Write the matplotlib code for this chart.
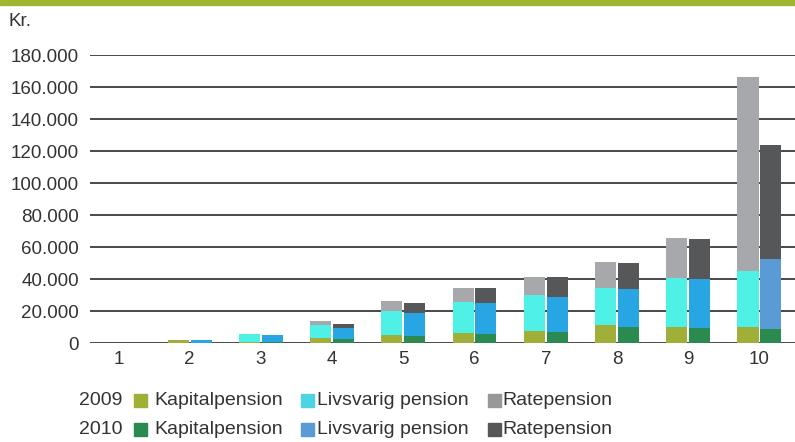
import matplotlib.pyplot as plt
from matplotlib.patches import Rectangle
import numpy as np

plt.rcParams['font.family'] = ['Liberation Sans', 'DejaVu Sans']

groups = ['1', '2', '3', '4', '5', '6', '7', '8', '9', '10']

# 2009
kap_2009 = [0, 1800, 800, 3300, 5200, 6000, 7300, 11000, 9700, 10000]
liv_2009 = [0, 0, 5000, 8100, 14900, 19900, 22900, 23600, 31100, 34700]
rate_2009 = [0, 0, 0, 2500, 6200, 8700, 11200, 16300, 24800, 121700]

# 2010
kap_2010 = [0, 300, 800, 2700, 4500, 5400, 6600, 9700, 9100, 8900]
liv_2010 = [0, 1500, 4400, 6800, 14300, 19900, 22400, 24300, 31100, 43900]
rate_2010 = [0, 300, 0, 2500, 6200, 9300, 12400, 16100, 24800, 70800]

c_kap09, c_liv09, c_rate09 = '#9faf38', '#4ff0e6', '#a7a8ab'
c_kap10, c_liv10, c_rate10 = '#2a8a50', '#27a6e3', '#565759'
c_liv09_leg, c_rate09_leg, c_liv10_leg = '#4dd4e2', '#98989c', '#5b9bd5'
text_col = '#333333'

fig = plt.figure(figsize=(7.95, 4.42), dpi=100)
ax = fig.add_axes([90 / 795, 1 - 343 / 442, 1 - 90 / 795, 288 / 442])

x = np.arange(1, len(groups) + 1)
w = 0.295
off = 0.16

k09 = np.array(kap_2009)
l09 = np.array(liv_2009)
r09 = np.array(rate_2009)
k10 = np.array(kap_2010)
l10 = np.array(liv_2010)
r10 = np.array(rate_2010)

ax.bar(x - off, k09, w, color=c_kap09, zorder=3)
ax.bar(x - off, l09, w, bottom=k09, color=c_liv09, zorder=3)
ax.bar(x - off, r09, w, bottom=k09 + l09, color=c_rate09, zorder=3)

liv10_colors = [c_liv10] * 9 + [c_liv10_leg]
ax.bar(x + off, k10, w, color=c_kap10, zorder=3)
ax.bar(x + off, l10, w, bottom=k10, color=liv10_colors, zorder=3)
ax.bar(x + off, r10, w, bottom=k10 + l10, color=c_rate10, zorder=3)

ax.set_xlim(0.6, 10.5)
ax.set_ylim(0, 180000)
ax.set_yticks(np.arange(0, 180001, 20000))
ax.set_yticklabels(['0' if v == 0 else f'{v // 1000}.000' for v in range(0, 180001, 20000)])
ax.set_xticks(x)
ax.set_xticklabels(groups)
ax.yaxis.grid(True, color='#3a3a3a', linewidth=1.3, zorder=0)
ax.set_axisbelow(True)
for s in ax.spines.values():
    s.set_visible(False)
ax.tick_params(axis='both', length=0, labelsize=13.5, colors=text_col)
ax.tick_params(axis='y', pad=8)
ax.tick_params(axis='x', pad=6)

# green band at top
fig.patches.append(Rectangle((0, 1 - 5 / 442), 1, 5 / 442, transform=fig.transFigure,
                             color='#a2b52e', zorder=0))
fig.text(9 / 795, 1 - 22 / 442, 'Kr.', fontsize=13.5, color=text_col, va='center')

# legend
rows = [('2009', [c_kap09, c_liv09_leg, c_rate09_leg], 400.5),
        ('2010', [c_kap10, c_liv10_leg, c_rate10], 429.5)]
labels = ['Kapitalpension', 'Livsvarig pension', 'Ratepension']
sq_x = [134, 301, 488]
txt_x = [154, 317, 502]
for year, cols, yp in rows:
    yf = 1 - yp / 442
    fig.text(79 / 795, yf, year, fontsize=14, color=text_col, va='center')
    for sx, tx, c, lab in zip(sq_x, txt_x, cols, labels):
        fig.patches.append(Rectangle((sx / 795, yf - 6.5 / 442), 13 / 795, 13 / 442,
                                     transform=fig.transFigure, color=c))
        fig.text(tx / 795, yf, lab, fontsize=14, color=text_col, va='center')

fig.savefig('out.png', dpi=100)
